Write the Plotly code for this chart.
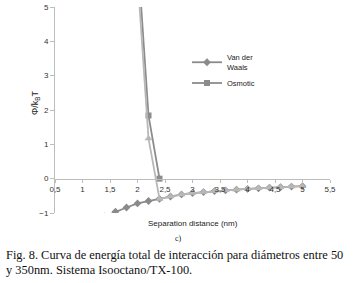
import plotly.graph_objects as go

# Data
vdw_x = [1.4, 1.6, 1.8, 2.0, 2.2, 2.4, 2.6, 2.8, 3.0, 3.2, 3.4, 3.6, 3.8, 4.0, 4.2, 4.4, 4.6, 4.8, 5.0]
vdw_y = [-1.1, -0.96, -0.84, -0.72, -0.65, -0.59, -0.52, -0.46, -0.42, -0.39, -0.36, -0.34, -0.32, -0.30, -0.28, -0.26, -0.25, -0.23, -0.22]

osm_x = [2.0, 2.2, 2.4]
osm_y = [6.6, 1.84, 0.0]

tot_x = [2.0, 2.2, 2.4, 2.6, 2.8, 3.0, 3.2, 3.4, 3.6, 3.8, 4.0, 4.2, 4.4, 4.6, 4.8, 5.0]
tot_y = [5.9, 1.17, -0.59, -0.52, -0.46, -0.42, -0.39, -0.36, -0.34, -0.32, -0.30, -0.28, -0.26, -0.25, -0.23, -0.22]

x_ticks = [0.5, 1, 1.5, 2, 2.5, 3, 3.5, 4, 4.5, 5, 5.5]
x_tick_labels = ["0,5", "1", "1,5", "2", "2,5", "3", "3,5", "4", "4,5", "5", "5,5"]
y_ticks = [-1, 0, 1, 2, 3, 4, 5]

L, R, T, B = 55, 28, 7, 70
W, H = 358, 283
PW, PH = W - L - R, H - T - B


def px_x(px):
    return (px - L) / PW


def px_y(py):
    return (H - B - py) / PH


fig = go.Figure()
fig.add_trace(go.Scatter(
    x=vdw_x, y=vdw_y, name="Van der<br>Waals", mode="lines+markers",
    line=dict(color="#8a8a8a", width=1.8),
    marker=dict(symbol="diamond", size=6, color="#8a8a8a"),
))
fig.add_trace(go.Scatter(
    x=osm_x, y=osm_y, name="Osmotic", mode="lines+markers",
    line=dict(color="#8c8c8c", width=1.8),
    marker=dict(symbol="square", size=6, color="#8c8c8c"),
))
fig.add_trace(go.Scatter(
    x=tot_x, y=tot_y, name="Total", mode="lines+markers", showlegend=False,
    line=dict(color="#b8b8b8", width=1.8),
    marker=dict(symbol="triangle-up", size=7, color="#b8b8b8"),
))

axis_font = dict(family="Liberation Sans, Arial, sans-serif", size=8, color="#333333")

fig.update_layout(
    width=W, height=H,
    margin=dict(l=L, r=R, t=T, b=B, autoexpand=False),
    paper_bgcolor="white", plot_bgcolor="white",
    showlegend=True,
    legend=dict(
        x=px_x(187), y=px_y(46), xanchor="left", yanchor="top",
        font=dict(family="Liberation Sans, Arial, sans-serif", size=7.5, color="#222222"),
        bgcolor="rgba(0,0,0,0)", tracegroupgap=0, itemwidth=30,
    ),
    xaxis=dict(
        range=[0.5, 5.5], tickvals=x_ticks, ticktext=x_tick_labels, automargin=False,
        showgrid=False, zeroline=False, showline=True, linecolor="#bdbdbd", linewidth=1,
        ticks="outside", ticklen=3, tickcolor="#bdbdbd",
        anchor="free", position=1/6, tickfont=axis_font,
    ),
    yaxis=dict(
        range=[-1, 5], tickvals=y_ticks, domain=[0, 1], automargin=False,
        showgrid=False, zeroline=False, showline=True, linecolor="#bdbdbd", linewidth=1,
        ticks="outside", ticklen=4, tickcolor="#bdbdbd", tickfont=axis_font,
    ),
    annotations=[
        dict(text="Φ/k<sub>B</sub>T", xref="paper", yref="paper",
             x=px_x(35), y=px_y(103), xanchor="center", yanchor="middle", textangle=-90,
             showarrow=False,
             font=dict(family="Liberation Sans, Arial, sans-serif", size=9, color="#222222")),
        dict(text="Separation distance (nm)", xref="paper", yref="paper",
             x=px_x(193), y=px_y(223), xanchor="center", yanchor="middle", showarrow=False,
             font=dict(family="Liberation Sans, Arial, sans-serif", size=8, color="#222222")),
        dict(text="c)", xref="paper", yref="paper",
             x=px_x(178), y=px_y(238), xanchor="center", yanchor="middle",
             showarrow=False,
             font=dict(family="Liberation Serif, Times New Roman, serif", size=8, color="#222222")),
        dict(text="Fig. 8. Curva de energía total de interacción para diámetros entre 50",
             xref="paper", yref="paper", x=px_x(4), y=px_y(255),
             xanchor="left", yanchor="middle", showarrow=False,
             font=dict(family="Liberation Serif, Times New Roman, serif", size=12.4, color="#111111")),
        dict(text="y 350nm. Sistema Isooctano/TX-100.",
             xref="paper", yref="paper", x=px_x(4), y=px_y(270),
             xanchor="left", yanchor="middle", showarrow=False,
             font=dict(family="Liberation Serif, Times New Roman, serif", size=12.4, color="#111111")),
    ],
)

fig.write_html("out.html", config={"displayModeBar": False},
               post_script="document.body.style.margin='0';")
